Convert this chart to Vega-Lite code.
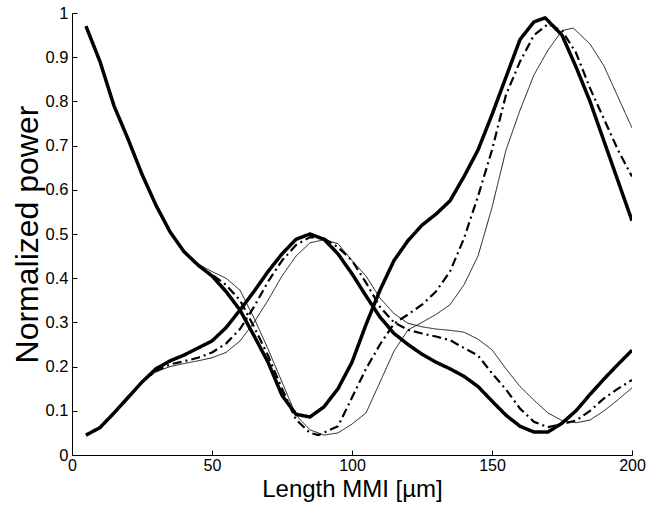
{
  "$schema": "https://vega.github.io/schema/vega-lite/v6.json",
  "width": 560,
  "height": 442,
  "autosize": {"type": "none"},
  "padding": {"left": 72, "top": 13, "right": 25, "bottom": 52},
  "background": "white",
  "config": {
    "view": {"stroke": null},
    "font": "Liberation Sans",
    "axis": {"grid": false, "domainColor": "black", "tickColor": "black", "labelColor": "black", "titleColor": "black", "labelFont": "Liberation Sans", "titleFont": "Liberation Sans", "titleFontWeight": "normal", "domainWidth": 1, "tickWidth": 1}
  },
  "datasets": {
    "curves": [
      {"c":"thickA","s":"thick","x":5,"y":0.97},{"c":"thickA","s":"thick","x":10,"y":0.89},{"c":"thickA","s":"thick","x":15,"y":0.79},{"c":"thickA","s":"thick","x":20,"y":0.715},{"c":"thickA","s":"thick","x":25,"y":0.635},{"c":"thickA","s":"thick","x":30,"y":0.565},{"c":"thickA","s":"thick","x":35,"y":0.505},{"c":"thickA","s":"thick","x":40,"y":0.46},{"c":"thickA","s":"thick","x":45,"y":0.43},{"c":"thickA","s":"thick","x":50,"y":0.405},{"c":"thickA","s":"thick","x":55,"y":0.37},{"c":"thickA","s":"thick","x":60,"y":0.328},{"c":"thickA","s":"thick","x":65,"y":0.27},{"c":"thickA","s":"thick","x":70,"y":0.21},{"c":"thickA","s":"thick","x":75,"y":0.135},{"c":"thickA","s":"thick","x":80,"y":0.092},{"c":"thickA","s":"thick","x":85,"y":0.086},{"c":"thickA","s":"thick","x":90,"y":0.109},{"c":"thickA","s":"thick","x":95,"y":0.15},{"c":"thickA","s":"thick","x":100,"y":0.21},{"c":"thickA","s":"thick","x":105,"y":0.295},{"c":"thickA","s":"thick","x":110,"y":0.373},{"c":"thickA","s":"thick","x":115,"y":0.44},{"c":"thickA","s":"thick","x":120,"y":0.485},{"c":"thickA","s":"thick","x":125,"y":0.52},{"c":"thickA","s":"thick","x":130,"y":0.545},{"c":"thickA","s":"thick","x":135,"y":0.575},{"c":"thickA","s":"thick","x":140,"y":0.63},{"c":"thickA","s":"thick","x":145,"y":0.69},{"c":"thickA","s":"thick","x":150,"y":0.77},{"c":"thickA","s":"thick","x":155,"y":0.855},{"c":"thickA","s":"thick","x":160,"y":0.94},{"c":"thickA","s":"thick","x":165,"y":0.98},{"c":"thickA","s":"thick","x":169,"y":0.989},{"c":"thickA","s":"thick","x":175,"y":0.95},{"c":"thickA","s":"thick","x":180,"y":0.878},{"c":"thickA","s":"thick","x":185,"y":0.8},{"c":"thickA","s":"thick","x":190,"y":0.71},{"c":"thickA","s":"thick","x":195,"y":0.62},{"c":"thickA","s":"thick","x":200,"y":0.53},

      {"c":"thickB","s":"thick","x":5,"y":0.045},{"c":"thickB","s":"thick","x":10,"y":0.062},{"c":"thickB","s":"thick","x":15,"y":0.095},{"c":"thickB","s":"thick","x":20,"y":0.13},{"c":"thickB","s":"thick","x":25,"y":0.165},{"c":"thickB","s":"thick","x":30,"y":0.195},{"c":"thickB","s":"thick","x":35,"y":0.213},{"c":"thickB","s":"thick","x":40,"y":0.226},{"c":"thickB","s":"thick","x":45,"y":0.242},{"c":"thickB","s":"thick","x":50,"y":0.258},{"c":"thickB","s":"thick","x":55,"y":0.288},{"c":"thickB","s":"thick","x":60,"y":0.328},{"c":"thickB","s":"thick","x":65,"y":0.37},{"c":"thickB","s":"thick","x":70,"y":0.415},{"c":"thickB","s":"thick","x":75,"y":0.455},{"c":"thickB","s":"thick","x":80,"y":0.488},{"c":"thickB","s":"thick","x":85,"y":0.5},{"c":"thickB","s":"thick","x":90,"y":0.488},{"c":"thickB","s":"thick","x":95,"y":0.455},{"c":"thickB","s":"thick","x":100,"y":0.41},{"c":"thickB","s":"thick","x":105,"y":0.36},{"c":"thickB","s":"thick","x":110,"y":0.312},{"c":"thickB","s":"thick","x":115,"y":0.275},{"c":"thickB","s":"thick","x":120,"y":0.25},{"c":"thickB","s":"thick","x":125,"y":0.228},{"c":"thickB","s":"thick","x":130,"y":0.21},{"c":"thickB","s":"thick","x":135,"y":0.195},{"c":"thickB","s":"thick","x":140,"y":0.178},{"c":"thickB","s":"thick","x":145,"y":0.155},{"c":"thickB","s":"thick","x":150,"y":0.122},{"c":"thickB","s":"thick","x":155,"y":0.09},{"c":"thickB","s":"thick","x":160,"y":0.065},{"c":"thickB","s":"thick","x":165,"y":0.052},{"c":"thickB","s":"thick","x":170,"y":0.052},{"c":"thickB","s":"thick","x":175,"y":0.072},{"c":"thickB","s":"thick","x":180,"y":0.1},{"c":"thickB","s":"thick","x":185,"y":0.137},{"c":"thickB","s":"thick","x":190,"y":0.172},{"c":"thickB","s":"thick","x":195,"y":0.205},{"c":"thickB","s":"thick","x":200,"y":0.237},

      {"c":"dashA","s":"dashdot","x":5,"y":0.97},{"c":"dashA","s":"dashdot","x":10,"y":0.89},{"c":"dashA","s":"dashdot","x":15,"y":0.79},{"c":"dashA","s":"dashdot","x":20,"y":0.715},{"c":"dashA","s":"dashdot","x":25,"y":0.635},{"c":"dashA","s":"dashdot","x":30,"y":0.565},{"c":"dashA","s":"dashdot","x":35,"y":0.505},{"c":"dashA","s":"dashdot","x":40,"y":0.46},{"c":"dashA","s":"dashdot","x":45,"y":0.428},{"c":"dashA","s":"dashdot","x":50,"y":0.408},{"c":"dashA","s":"dashdot","x":55,"y":0.385},{"c":"dashA","s":"dashdot","x":60,"y":0.35},{"c":"dashA","s":"dashdot","x":65,"y":0.29},{"c":"dashA","s":"dashdot","x":70,"y":0.225},{"c":"dashA","s":"dashdot","x":75,"y":0.15},{"c":"dashA","s":"dashdot","x":80,"y":0.08},{"c":"dashA","s":"dashdot","x":85,"y":0.05},{"c":"dashA","s":"dashdot","x":88,"y":0.045},{"c":"dashA","s":"dashdot","x":95,"y":0.065},{"c":"dashA","s":"dashdot","x":100,"y":0.13},{"c":"dashA","s":"dashdot","x":105,"y":0.195},{"c":"dashA","s":"dashdot","x":110,"y":0.25},{"c":"dashA","s":"dashdot","x":115,"y":0.297},{"c":"dashA","s":"dashdot","x":120,"y":0.318},{"c":"dashA","s":"dashdot","x":125,"y":0.34},{"c":"dashA","s":"dashdot","x":130,"y":0.37},{"c":"dashA","s":"dashdot","x":135,"y":0.415},{"c":"dashA","s":"dashdot","x":140,"y":0.49},{"c":"dashA","s":"dashdot","x":145,"y":0.585},{"c":"dashA","s":"dashdot","x":150,"y":0.69},{"c":"dashA","s":"dashdot","x":155,"y":0.815},{"c":"dashA","s":"dashdot","x":160,"y":0.89},{"c":"dashA","s":"dashdot","x":165,"y":0.95},{"c":"dashA","s":"dashdot","x":170,"y":0.975},{"c":"dashA","s":"dashdot","x":175,"y":0.96},{"c":"dashA","s":"dashdot","x":180,"y":0.91},{"c":"dashA","s":"dashdot","x":185,"y":0.83},{"c":"dashA","s":"dashdot","x":190,"y":0.76},{"c":"dashA","s":"dashdot","x":195,"y":0.69},{"c":"dashA","s":"dashdot","x":200,"y":0.63},

      {"c":"thinA","s":"thin","x":5,"y":0.97},{"c":"thinA","s":"thin","x":10,"y":0.89},{"c":"thinA","s":"thin","x":15,"y":0.79},{"c":"thinA","s":"thin","x":20,"y":0.715},{"c":"thinA","s":"thin","x":25,"y":0.635},{"c":"thinA","s":"thin","x":30,"y":0.565},{"c":"thinA","s":"thin","x":35,"y":0.505},{"c":"thinA","s":"thin","x":40,"y":0.46},{"c":"thinA","s":"thin","x":45,"y":0.432},{"c":"thinA","s":"thin","x":50,"y":0.415},{"c":"thinA","s":"thin","x":55,"y":0.4},{"c":"thinA","s":"thin","x":60,"y":0.373},{"c":"thinA","s":"thin","x":65,"y":0.31},{"c":"thinA","s":"thin","x":70,"y":0.24},{"c":"thinA","s":"thin","x":75,"y":0.165},{"c":"thinA","s":"thin","x":80,"y":0.09},{"c":"thinA","s":"thin","x":85,"y":0.057},{"c":"thinA","s":"thin","x":90,"y":0.045},{"c":"thinA","s":"thin","x":95,"y":0.05},{"c":"thinA","s":"thin","x":100,"y":0.07},{"c":"thinA","s":"thin","x":105,"y":0.095},{"c":"thinA","s":"thin","x":110,"y":0.165},{"c":"thinA","s":"thin","x":115,"y":0.235},{"c":"thinA","s":"thin","x":120,"y":0.283},{"c":"thinA","s":"thin","x":125,"y":0.3},{"c":"thinA","s":"thin","x":130,"y":0.318},{"c":"thinA","s":"thin","x":135,"y":0.34},{"c":"thinA","s":"thin","x":140,"y":0.385},{"c":"thinA","s":"thin","x":145,"y":0.45},{"c":"thinA","s":"thin","x":150,"y":0.56},{"c":"thinA","s":"thin","x":155,"y":0.69},{"c":"thinA","s":"thin","x":160,"y":0.78},{"c":"thinA","s":"thin","x":165,"y":0.86},{"c":"thinA","s":"thin","x":170,"y":0.916},{"c":"thinA","s":"thin","x":175,"y":0.96},{"c":"thinA","s":"thin","x":179,"y":0.966},{"c":"thinA","s":"thin","x":185,"y":0.93},{"c":"thinA","s":"thin","x":190,"y":0.88},{"c":"thinA","s":"thin","x":195,"y":0.81},{"c":"thinA","s":"thin","x":200,"y":0.74},

      {"c":"dashB","s":"dashdot","x":5,"y":0.045},{"c":"dashB","s":"dashdot","x":10,"y":0.062},{"c":"dashB","s":"dashdot","x":15,"y":0.095},{"c":"dashB","s":"dashdot","x":20,"y":0.13},{"c":"dashB","s":"dashdot","x":25,"y":0.165},{"c":"dashB","s":"dashdot","x":30,"y":0.19},{"c":"dashB","s":"dashdot","x":35,"y":0.205},{"c":"dashB","s":"dashdot","x":40,"y":0.212},{"c":"dashB","s":"dashdot","x":45,"y":0.22},{"c":"dashB","s":"dashdot","x":50,"y":0.232},{"c":"dashB","s":"dashdot","x":55,"y":0.252},{"c":"dashB","s":"dashdot","x":60,"y":0.285},{"c":"dashB","s":"dashdot","x":65,"y":0.335},{"c":"dashB","s":"dashdot","x":70,"y":0.392},{"c":"dashB","s":"dashdot","x":75,"y":0.44},{"c":"dashB","s":"dashdot","x":80,"y":0.475},{"c":"dashB","s":"dashdot","x":85,"y":0.493},{"c":"dashB","s":"dashdot","x":90,"y":0.49},{"c":"dashB","s":"dashdot","x":95,"y":0.47},{"c":"dashB","s":"dashdot","x":100,"y":0.44},{"c":"dashB","s":"dashdot","x":105,"y":0.39},{"c":"dashB","s":"dashdot","x":110,"y":0.335},{"c":"dashB","s":"dashdot","x":115,"y":0.3},{"c":"dashB","s":"dashdot","x":120,"y":0.283},{"c":"dashB","s":"dashdot","x":125,"y":0.275},{"c":"dashB","s":"dashdot","x":130,"y":0.268},{"c":"dashB","s":"dashdot","x":135,"y":0.26},{"c":"dashB","s":"dashdot","x":140,"y":0.242},{"c":"dashB","s":"dashdot","x":145,"y":0.225},{"c":"dashB","s":"dashdot","x":150,"y":0.185},{"c":"dashB","s":"dashdot","x":155,"y":0.148},{"c":"dashB","s":"dashdot","x":160,"y":0.105},{"c":"dashB","s":"dashdot","x":165,"y":0.075},{"c":"dashB","s":"dashdot","x":170,"y":0.063},{"c":"dashB","s":"dashdot","x":175,"y":0.07},{"c":"dashB","s":"dashdot","x":180,"y":0.078},{"c":"dashB","s":"dashdot","x":185,"y":0.1},{"c":"dashB","s":"dashdot","x":190,"y":0.128},{"c":"dashB","s":"dashdot","x":195,"y":0.15},{"c":"dashB","s":"dashdot","x":200,"y":0.17},

      {"c":"thinB","s":"thin","x":5,"y":0.045},{"c":"thinB","s":"thin","x":10,"y":0.062},{"c":"thinB","s":"thin","x":15,"y":0.095},{"c":"thinB","s":"thin","x":20,"y":0.13},{"c":"thinB","s":"thin","x":25,"y":0.165},{"c":"thinB","s":"thin","x":30,"y":0.188},{"c":"thinB","s":"thin","x":35,"y":0.2},{"c":"thinB","s":"thin","x":40,"y":0.207},{"c":"thinB","s":"thin","x":45,"y":0.213},{"c":"thinB","s":"thin","x":50,"y":0.22},{"c":"thinB","s":"thin","x":55,"y":0.232},{"c":"thinB","s":"thin","x":60,"y":0.258},{"c":"thinB","s":"thin","x":65,"y":0.3},{"c":"thinB","s":"thin","x":70,"y":0.35},{"c":"thinB","s":"thin","x":75,"y":0.405},{"c":"thinB","s":"thin","x":80,"y":0.45},{"c":"thinB","s":"thin","x":85,"y":0.48},{"c":"thinB","s":"thin","x":90,"y":0.487},{"c":"thinB","s":"thin","x":95,"y":0.478},{"c":"thinB","s":"thin","x":100,"y":0.44},{"c":"thinB","s":"thin","x":105,"y":0.405},{"c":"thinB","s":"thin","x":110,"y":0.355},{"c":"thinB","s":"thin","x":115,"y":0.32},{"c":"thinB","s":"thin","x":120,"y":0.298},{"c":"thinB","s":"thin","x":125,"y":0.29},{"c":"thinB","s":"thin","x":130,"y":0.285},{"c":"thinB","s":"thin","x":135,"y":0.282},{"c":"thinB","s":"thin","x":140,"y":0.278},{"c":"thinB","s":"thin","x":145,"y":0.262},{"c":"thinB","s":"thin","x":150,"y":0.238},{"c":"thinB","s":"thin","x":155,"y":0.195},{"c":"thinB","s":"thin","x":160,"y":0.155},{"c":"thinB","s":"thin","x":165,"y":0.124},{"c":"thinB","s":"thin","x":170,"y":0.095},{"c":"thinB","s":"thin","x":175,"y":0.078},{"c":"thinB","s":"thin","x":180,"y":0.073},{"c":"thinB","s":"thin","x":185,"y":0.079},{"c":"thinB","s":"thin","x":190,"y":0.1},{"c":"thinB","s":"thin","x":195,"y":0.125},{"c":"thinB","s":"thin","x":200,"y":0.152}
    ]
  },
  "data": {"name": "curves"},
  "mark": {"type": "line", "color": "black", "clip": true, "strokeJoin": "round"},
  "encoding": {
    "x": {"field": "x", "type": "quantitative", "scale": {"domain": [0, 200], "nice": false, "zero": false},
      "axis": {"title": "Length MMI [µm]", "values": [0, 50, 100, 150, 200], "tickSize": -5, "labelPadding": 7, "labelFontSize": 16, "titleFontSize": 24, "titlePadding": 4, "titleBaseline": "top", "labelFlush": false}},
    "y": {"field": "y", "type": "quantitative", "scale": {"domain": [0, 1], "nice": false},
      "axis": {"title": "Normalized power", "values": [0, 0.1, 0.2, 0.3, 0.4, 0.5, 0.6, 0.7, 0.8, 0.9, 1], "labelExpr": "datum.value == 0 ? '0' : datum.value == 1 ? '1' : format(datum.value, '.1f')", "tickSize": -5, "labelPadding": 9, "labelFontSize": 16.5, "titleFontSize": 32, "titlePadding": 1, "labelFlush": false}},
    "detail": {"field": "c"},
    "strokeWidth": {"field": "s", "type": "nominal", "scale": {"domain": ["thick", "dashdot", "thin"], "range": [3.5, 0.9, 0.9]}, "legend": null},
    "strokeDash": {"field": "s", "type": "nominal", "scale": {"domain": ["thick", "dashdot", "thin"], "range": [[1, 0], [9, 4, 2, 4], [1, 0]]}, "legend": null}
  }
}
